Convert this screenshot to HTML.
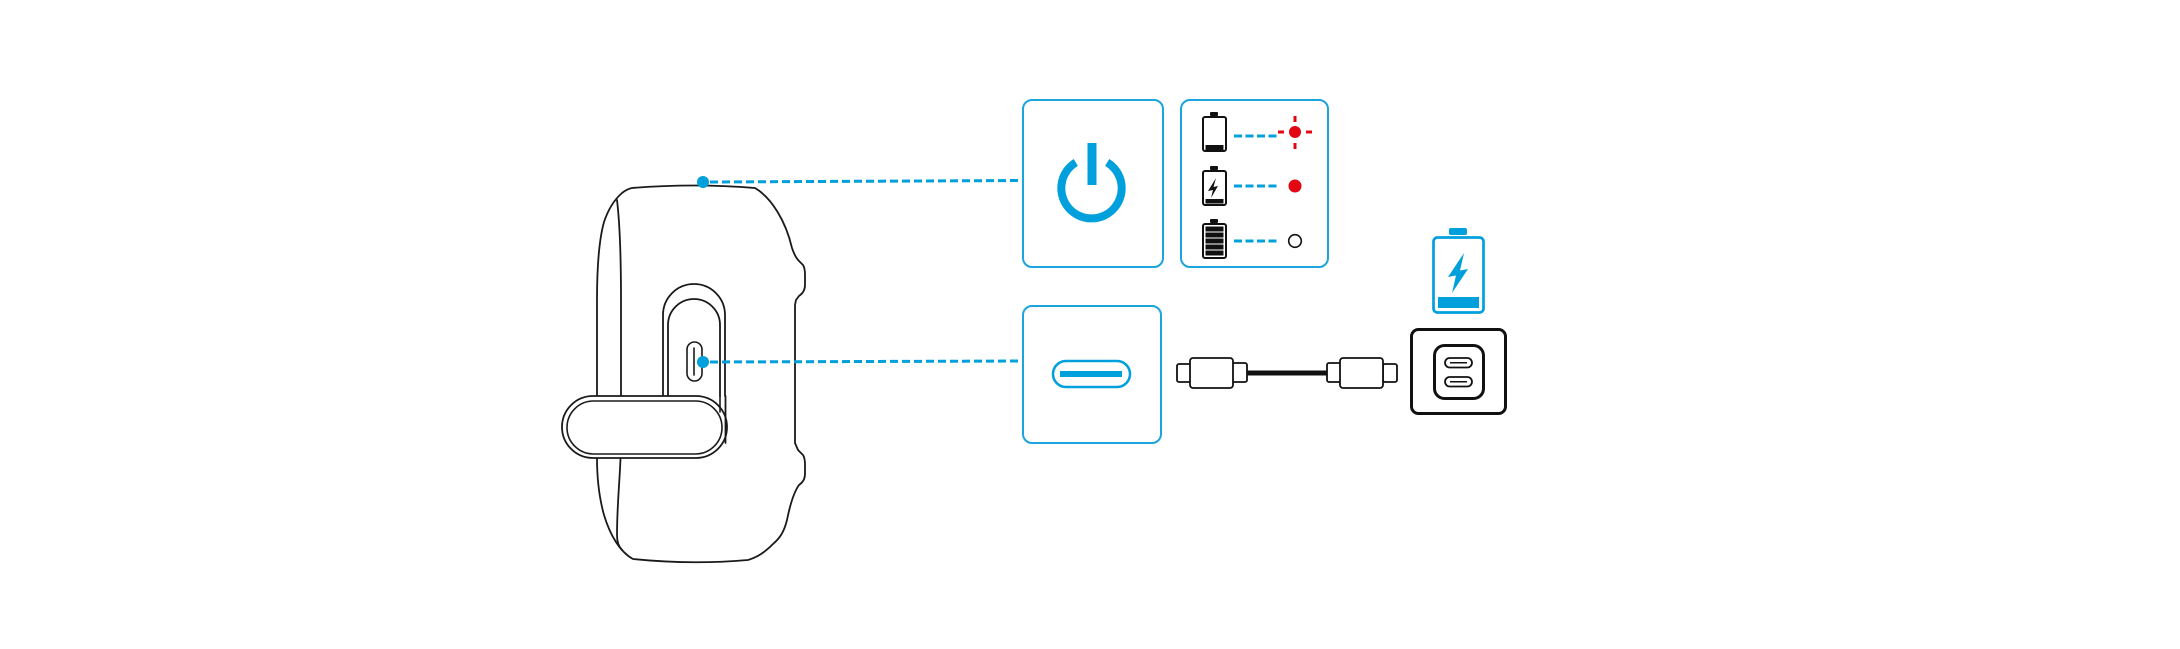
<!DOCTYPE html>
<html>
<head>
<meta charset="utf-8">
<style>
  html, body { margin: 0; padding: 0; background: #ffffff; }
  body { width: 2180px; height: 649px; overflow: hidden; }
  svg { display: block; }
</style>
</head>
<body>
<svg width="2180" height="649" viewBox="0 0 2180 649" xmlns="http://www.w3.org/2000/svg">
  <rect width="2180" height="649" fill="#ffffff"/>

  <!-- ===== Speaker body ===== -->
  <g fill="none" stroke="#1a1a1a" stroke-width="1.8" stroke-linejoin="round" stroke-linecap="round">
    <path d="M 632,188
             Q 693,183 755,188
             C 772,198 786,222 792,248
             C 794,254 796,258 799,261
             L 803,265 Q 805,268 805,275 L 805,285 Q 805,292 799,296
             L 796,300 L 795,305 L 795,443
             L 798,450 L 803,455 Q 805,458 805,465 L 805,474 Q 805,481 799,485
             C 794,492 790,505 787,520
             C 784,532 780,538 773,544
             C 765,552 758,557 748,560
             Q 690,565 633,559
             C 620,552 610,535 604,515
             C 599,497 597,480 597,458
             L 597,300
             C 597,265 599,240 604,222
             C 608,210 614,200 622,193
             Q 627,189 632,188 Z" fill="#ffffff"/>
    <!-- inner left line -->
    <path d="M 617,200 C 620,225 621,260 621,300 L 621,440 C 621,470 617,500 617,535 Q 617,545 622,550"/>
    <!-- back panel outer (left part + top) -->
    <path d="M 663,396 L 663,315 A 31,31 0 0 1 725,315 L 725,396"/>
    <!-- back panel inner -->
    <path d="M 668,396 L 668,325 A 26,26 0 0 1 720,325 L 720,396"/>
    <!-- USB-C port on speaker -->
    <rect x="687" y="342" width="15" height="39" rx="7.5" stroke-width="1.6"/>
    <line x1="694" y1="348" x2="694" y2="375" stroke-width="1.6"/>
    <!-- strap -->
    <rect x="562" y="396" width="165" height="62" rx="31" fill="#ffffff"/>
    <rect x="567" y="401" width="155" height="53" rx="26.5" fill="#ffffff" stroke-width="1.6"/>
    <!-- panel right edges continuing over strap end -->
    <line x1="725.5" y1="396" x2="725.5" y2="443"/>
    <line x1="720" y1="396" x2="720" y2="412" stroke-width="1.6"/>
  </g>

  <!-- ===== Blue connector lines ===== -->
  <g stroke="#00a0dc" stroke-width="3" fill="none" stroke-dasharray="8 4">
    <line x1="710" y1="182" x2="1022" y2="180.5"/>
    <line x1="710" y1="362" x2="1022" y2="361"/>
  </g>
  <circle cx="703" cy="182" r="6" fill="#00a0dc"/>
  <circle cx="703" cy="362" r="6" fill="#00a0dc"/>

  <!-- ===== Boxes ===== -->
  <g fill="#ffffff" stroke="#1ca4dc" stroke-width="2">
    <rect x="1023" y="100" width="140" height="167" rx="9"/>
    <rect x="1181" y="100" width="147" height="167" rx="9"/>
    <rect x="1023" y="306" width="138" height="137" rx="9"/>
  </g>

  <!-- Power icon -->
  <rect x="1087.5" y="143" width="9" height="42" fill="#00a0dc"/>
  <path d="M 1107.2,162.4 A 30.2,30.2 0 1 1 1075.8,162.4" fill="none" stroke="#00a0dc" stroke-width="8"/>

  <!-- LED status panel -->
  <g fill="none" stroke="#111111" stroke-width="2">
    <rect x="1203" y="117" width="23" height="34" rx="2"/>
    <rect x="1203" y="171" width="23" height="34" rx="2"/>
    <rect x="1203" y="224" width="23" height="34" rx="2"/>
  </g>
  <g fill="#111111">
    <rect x="1210" y="112" width="8" height="4" rx="1"/>
    <rect x="1210" y="166" width="8" height="4" rx="1"/>
    <rect x="1210" y="219" width="8" height="4" rx="1"/>
    <rect x="1205.5" y="145" width="18" height="5"/>
    <rect x="1205.5" y="199" width="18" height="4.5"/>
    <polygon points="1216,178 1208,191 1213,190 1211,198 1218,186 1213.5,187"/>
    <rect x="1205.5" y="226.5" width="18" height="5"/>
    <rect x="1205.5" y="232.5" width="18" height="5"/>
    <rect x="1205.5" y="238.5" width="18" height="5"/>
    <rect x="1205.5" y="244.5" width="18" height="5"/>
    <rect x="1205.5" y="250.5" width="18" height="5"/>
  </g>
  <g stroke="#00a0dc" stroke-width="3" stroke-dasharray="8 3.5" fill="none">
    <line x1="1234" y1="136" x2="1278" y2="136"/>
    <line x1="1234" y1="186" x2="1278" y2="186"/>
    <line x1="1234" y1="241" x2="1278" y2="241"/>
  </g>
  <!-- red blinking -->
  <circle cx="1295" cy="132" r="6" fill="#e30613"/>
  <g stroke="#e30613" stroke-width="3">
    <line x1="1295" y1="116" x2="1295" y2="122"/>
    <line x1="1295" y1="143" x2="1295" y2="149"/>
    <line x1="1278" y1="132" x2="1284" y2="132"/>
    <line x1="1306" y1="132" x2="1312" y2="132"/>
  </g>
  <circle cx="1295" cy="186" r="6.5" fill="#e30613"/>
  <circle cx="1295" cy="241" r="6.3" fill="#ffffff" stroke="#111111" stroke-width="1.6"/>

  <!-- USB port icon in box -->
  <rect x="1053" y="361" width="77" height="26" rx="13" fill="none" stroke="#00a0dc" stroke-width="2.5"/>
  <rect x="1060" y="371" width="62" height="6" fill="#00a0dc"/>

  <!-- ===== Cable ===== -->
  <line x1="1246" y1="373" x2="1328" y2="373" stroke="#111111" stroke-width="5"/>
  <g fill="#ffffff" stroke="#111111" stroke-width="1.8">
    <rect x="1177" y="364" width="14" height="18" rx="2"/>
    <rect x="1232" y="363" width="15" height="19" rx="2"/>
    <rect x="1190" y="358" width="43" height="30" rx="3"/>
    <rect x="1383" y="364" width="14" height="18" rx="2"/>
    <rect x="1327" y="363" width="14" height="19" rx="2"/>
    <rect x="1340" y="358" width="43" height="30" rx="3"/>
  </g>

  <!-- ===== Blue battery ===== -->
  <rect x="1449" y="228" width="18" height="7" rx="2" fill="#00a0dc"/>
  <rect x="1433.5" y="237.5" width="50" height="75" rx="4" fill="none" stroke="#00a0dc" stroke-width="2.7"/>
  <rect x="1438" y="297" width="41" height="11" fill="#00a0dc"/>
  <polygon points="1464,253 1448,277 1456,275.5 1452,293 1468,269 1460,270.5" fill="#00a0dc"/>

  <!-- ===== Wall outlet ===== -->
  <rect x="1411.5" y="329.5" width="94" height="84" rx="7" fill="#ffffff" stroke="#111111" stroke-width="3"/>
  <rect x="1434.5" y="345.5" width="49" height="53" rx="10" fill="#ffffff" stroke="#111111" stroke-width="3"/>
  <g fill="none" stroke="#111111" stroke-width="1.8">
    <rect x="1445" y="358" width="27" height="9.5" rx="4.75"/>
    <rect x="1445" y="377" width="27" height="9.5" rx="4.75"/>
  </g>
  <g stroke="#111111" stroke-width="1.6">
    <line x1="1450" y1="362.75" x2="1467" y2="362.75"/>
    <line x1="1450" y1="381.75" x2="1467" y2="381.75"/>
  </g>
</svg>
</body>
</html>
